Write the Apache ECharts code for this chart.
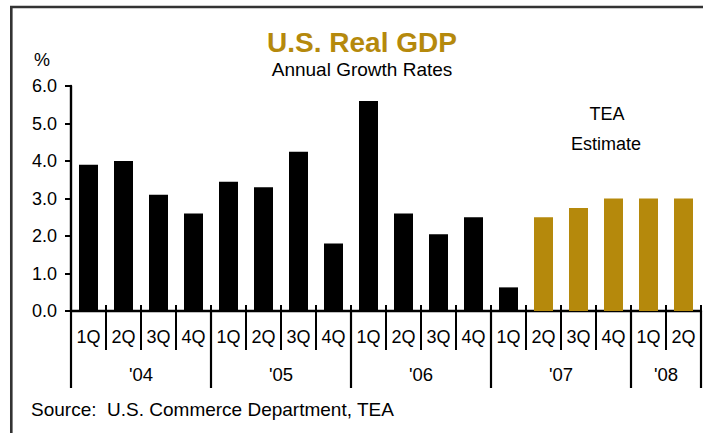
<!DOCTYPE html>
<html><head><meta charset="utf-8">
<script src="https://cdn.jsdelivr.net/npm/echarts@6/dist/echarts.min.js"></script>
<style>html,body{margin:0;padding:0;background:#fff}#c{width:703px;height:433px}</style>
</head><body><div id="c"></div>
<script>
// ---- data ----
const quarters = ['1Q','2Q','3Q','4Q','1Q','2Q','3Q','4Q','1Q','2Q','3Q','4Q','1Q','2Q','3Q','4Q','1Q','2Q'];
const growth   = [3.9, 4.0, 3.1, 2.6, 3.45, 3.3, 4.25, 1.8, 5.6, 2.6, 2.05, 2.5, 0.63, 2.5, 2.75, 3.0, 3.0, 3.0];
const actualCount = 13; // first 13 quarters are actual, the rest TEA estimates
const years = ["'04", "'05", "'06", "'07", "'08"];
const quartersPerYear = [4, 4, 4, 4, 2];
const yMin = 0, yMax = 6, yStep = 1;

// ---- derived ----
const yearBounds = [0];
quartersPerYear.forEach(n => yearBounds.push(yearBounds[yearBounds.length - 1] + n));
const yearCenters = years.map((y, i) => (yearBounds[i] + yearBounds[i + 1]) / 2);

const GOLD = '#b5890c';
const FONT = "'Liberation Sans', Arial, Helvetica, sans-serif";

const chart = echarts.init(document.getElementById('c'), null, { renderer: 'svg' });
chart.setOption({
  animation: false,
  backgroundColor: '#fff',
  textStyle: { fontFamily: FONT, color: '#000' },
  grid: { left: 71, right: 2, top: 86, bottom: 122, containLabel: false },
  xAxis: [
    {
      type: 'category', data: quarters, position: 'bottom',
      axisLine: { show: true, lineStyle: { color: '#000', width: 2.4 } },
      axisTick: { show: true, interval: 0, length: 39, lineStyle: { color: '#000', width: 2 } },
      axisLabel: { interval: 0, margin: 17, fontSize: 18, color: '#000', fontFamily: FONT },
      splitLine: { show: false }
    },
    {
      type: 'category', data: quarters, position: 'bottom',
      axisLine: { show: false },
      axisTick: { show: true, inside: true, interval: 0, length: 6, lineStyle: { color: '#000', width: 2 } },
      axisLabel: { show: false, interval: 0 },
      splitLine: { show: false }
    },
    {
      type: 'value', min: yearBounds[0], max: yearBounds[yearBounds.length - 1], position: 'bottom',
      axisLine: { show: false },
      axisTick: { show: true, customValues: yearBounds, length: 77, lineStyle: { color: '#000', width: 2.2 } },
      axisLabel: {
        customValues: yearCenters, margin: 54, fontSize: 18.5, color: '#000', fontFamily: FONT,
        formatter: v => years[yearCenters.indexOf(v)]
      },
      splitLine: { show: false }
    }
  ],
  yAxis: {
    type: 'value', min: yMin, max: yMax, interval: yStep,
    axisLine: { show: true, lineStyle: { color: '#000', width: 2.4 } },
    axisTick: { show: true, length: 6, lineStyle: { color: '#000', width: 2 } },
    axisLabel: { margin: 14, fontSize: 18, color: '#000', fontFamily: FONT, formatter: v => v.toFixed(1) },
    splitLine: { show: false }
  },
  series: [{
    type: 'bar', xAxisIndex: 0, yAxisIndex: 0, barWidth: 19,
    data: growth.map((v, i) => ({ value: v, itemStyle: { color: i < actualCount ? '#000' : GOLD } }))
  }],
  graphic: [
    { type: 'rect', silent: true, shape: { x: 11.3, y: 7, width: 760, height: 480 },
      style: { fill: 'none', stroke: '#333', lineWidth: 2.6 } },
    { type: 'text', style: { x: 362, y: 42, text: 'U.S. Real GDP', fill: GOLD, textAlign: 'center', textVerticalAlign: 'middle',
      font: "bold 28px " + FONT } },
    { type: 'text', style: { x: 362, y: 69.5, text: 'Annual Growth Rates', fill: '#000', textAlign: 'center', textVerticalAlign: 'middle',
      font: "19px " + FONT } },
    { type: 'text', style: { x: 42, y: 60, text: '%', fill: '#000', textAlign: 'center', textVerticalAlign: 'middle',
      font: "18px " + FONT } },
    { type: 'text', style: { x: 607, y: 114, text: 'TEA', fill: '#000', textAlign: 'center', textVerticalAlign: 'middle',
      font: "18px " + FONT } },
    { type: 'text', style: { x: 606, y: 144, text: 'Estimate', fill: '#000', textAlign: 'center', textVerticalAlign: 'middle',
      font: "18px " + FONT } },
    { type: 'text', style: { x: 31, y: 409, text: 'Source:  U.S. Commerce Department, TEA', fill: '#000', textAlign: 'left', textVerticalAlign: 'middle',
      font: "19px " + FONT } }
  ]
});
</script></body></html>
